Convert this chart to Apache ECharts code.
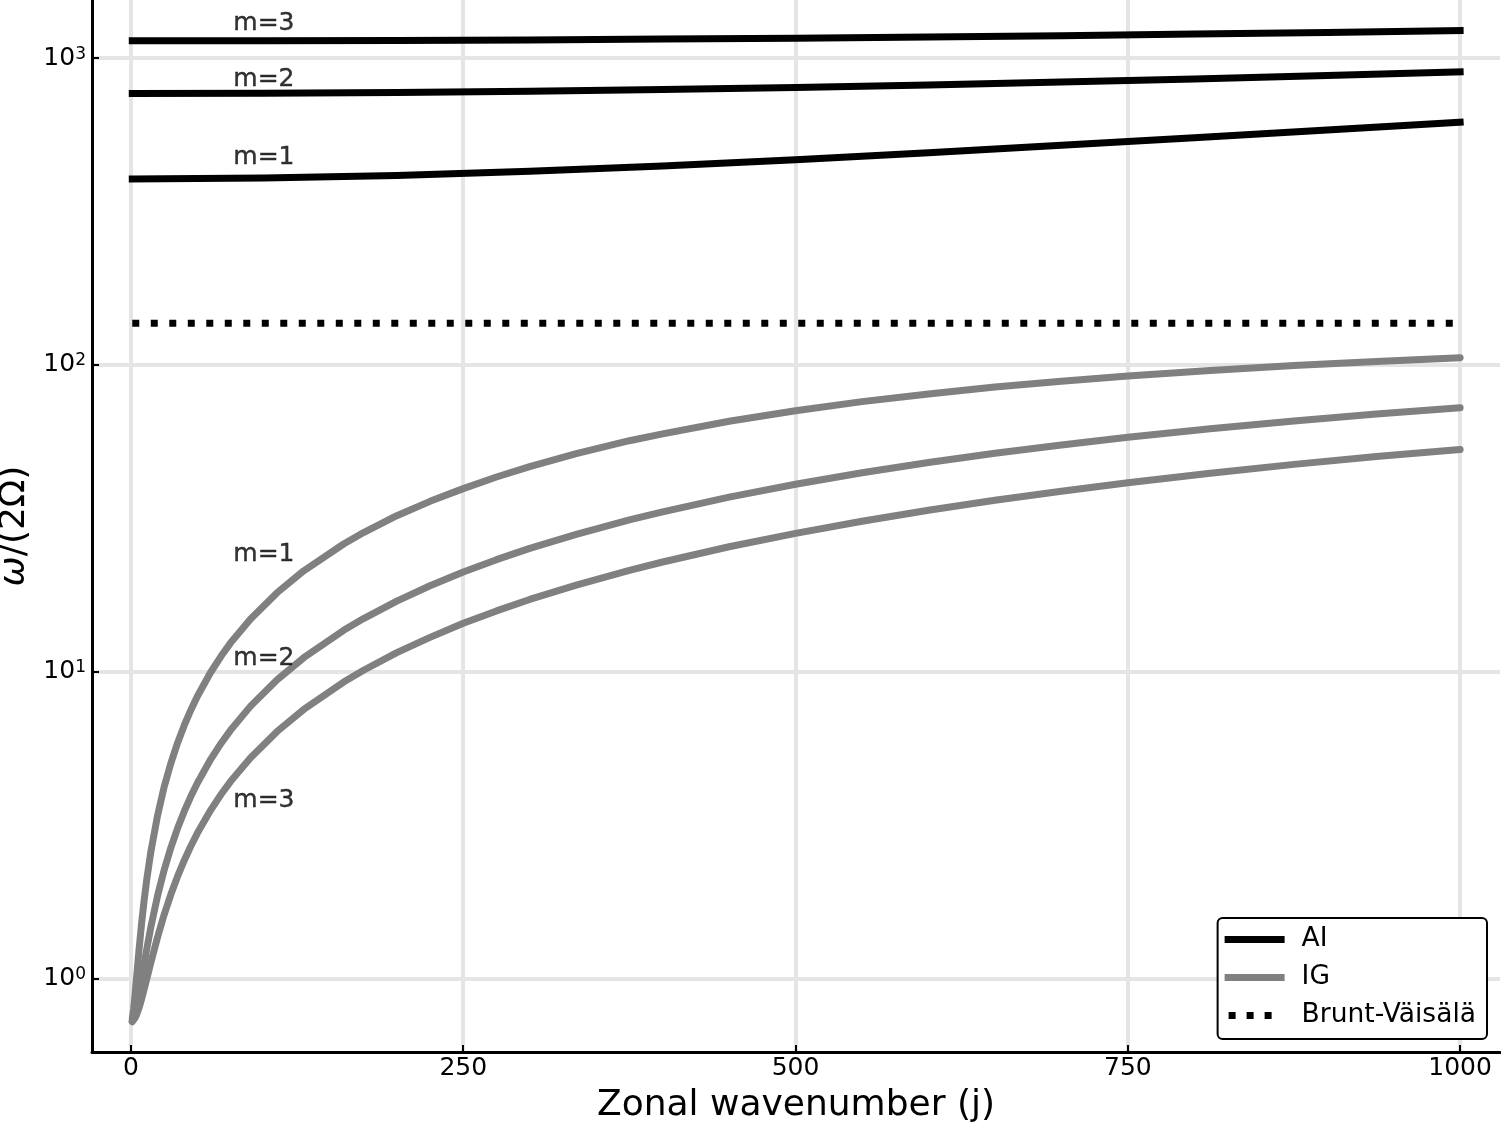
<!DOCTYPE html>
<html>
<head>
<meta charset="utf-8">
<script src="https://cdn.jsdelivr.net/npm/echarts@6/dist/echarts.min.js"></script>
<style>
  html, body { margin: 0; padding: 0; background: #fff; }
  #chart { width: 1501px; height: 1123px; }
</style>
</head>
<body>
<div id="chart"></div>
<script>
// zonal wavenumber samples
var jAI = [1, 100, 200, 300, 400, 500, 600, 700, 800, 900, 1000];
var aiM1 = [404, 406.7, 414.7, 427.7, 445.2, 466.8, 491.9, 520.0, 550.6, 583.4, 618.0];
var aiM2 = [767, 768.5, 772.9, 780.1, 790.2, 802.9, 818.2, 836.0, 856.0, 878.1, 902.2];
var aiM3 = [1139, 1140.0, 1142.8, 1147.5, 1154.1, 1162.5, 1172.7, 1184.6, 1198.2, 1213.5, 1230.3];

var jIG = [1, 2, 3, 4, 6, 8, 10, 12, 15, 20, 25, 30, 35, 40, 45, 50, 60, 68, 75, 90,
           110, 130, 160, 175, 200, 225, 250, 275, 300, 335, 375, 400, 450, 500, 550, 600,
           650, 700, 750, 812, 875, 937, 1000];
var igM1 = [0.74, 0.793, 0.875, 0.979, 1.23, 1.509, 1.81, 2.116, 2.59, 3.39, 4.21, 5.02, 5.843, 6.66, 7.485, 8.31, 9.95, 11.26, 12.41, 14.85,
            18.09, 21.31, 26.06, 28.40, 32.24, 35.9, 39.5, 43.1, 46.6, 51.4, 56.6, 59.6, 65.5, 70.9, 75.9, 80.4,
            84.7, 88.5, 92.0, 95.9, 99.5, 102.6, 105.5];
var igM2 = [0.725, 0.740, 0.764, 0.797, 0.884, 0.993, 1.118, 1.253, 1.471, 1.855, 2.255, 2.664, 3.077, 3.494, 3.913, 4.333, 5.177, 5.853, 6.446, 7.716,
            9.41, 11.10, 13.63, 14.89, 16.98, 19.05, 21.13, 23.17, 25.22, 28.03, 31.22, 33.18, 37.05, 40.80, 44.48, 48.03,
            51.49, 54.83, 58.07, 61.91, 65.64, 69.13, 72.5];
var igM3 = [0.722, 0.729, 0.741, 0.756, 0.799, 0.855, 0.923, 0.999, 1.126, 1.361, 1.613, 1.875, 2.144, 2.418, 2.695, 2.974, 3.536, 3.989, 4.386, 5.241,
            6.383, 7.527, 9.243, 10.10, 11.53, 12.93, 14.37, 15.77, 17.19, 19.15, 21.39, 22.77, 25.53, 28.24, 30.93, 33.57,
            36.19, 38.75, 41.28, 44.34, 47.38, 50.30, 53.0];

var jBV = [1, 1000];
var bv = [136.8, 136.8];

// m= annotations
var annoText = ['m=3', 'm=2', 'm=1', 'm=1', 'm=2', 'm=3'];
var annoJ = [77, 77, 77, 77, 77, 77];
var annoVal = [1294, 850, 473, 24.1, 11.0, 3.79];

var xTicks = [0, 250, 500, 750, 1000];
var yTicks = [1, 10, 100, 1000];

var FONT = 'DejaVu Sans';
var BV_ICON = 'path://M0,3.5L0,3.5M4,0h7v7h-7zM22,0h7v7h-7zM40,0h7v7h-7zM60,3.5L60,3.5';

function pairs(xs, ys) {
    return xs.map(function (x, i) { return [x, ys[i]]; });
}

function lineSeries(name, xs, ys, color, cap) {
    return {
        name: name,
        type: 'line',
        data: pairs(xs, ys),
        symbol: 'none',
        lineStyle: { color: color, width: 7, cap: cap, join: 'round' },
        itemStyle: { color: color },
        silent: true,
        z: 3
    };
}

var series = [
    lineSeries('AI', jAI, aiM1, '#000000', 'square'),
    lineSeries('AI', jAI, aiM2, '#000000', 'square'),
    lineSeries('AI', jAI, aiM3, '#000000', 'square'),
    lineSeries('IG', jIG, igM1, '#808080', 'round'),
    lineSeries('IG', jIG, igM2, '#808080', 'round'),
    lineSeries('IG', jIG, igM3, '#808080', 'round'),
    {
        name: 'Brunt-Väisälä',
        type: 'line',
        data: pairs(jBV, bv),
        symbol: 'none',
        lineStyle: { color: '#000000', width: 7, type: [7, 11.5], cap: 'butt' },
        itemStyle: { color: '#000000' },
        silent: true,
        z: 3
    },
    {
        type: 'scatter',
        data: annoJ.map(function (j, i) { return { value: [j, annoVal[i]], name: annoText[i] }; }),
        symbolSize: 0,
        silent: true,
        label: {
            show: true,
            position: 'right',
            distance: 0,
            formatter: function (p) { return p.name; },
            color: '#000',
            fontFamily: FONT,
            fontSize: 25,
            textBorderColor: '#000',
            textBorderWidth: 0.4
        },
        z: 4
    }
];

var chart = echarts.init(document.getElementById('chart'), null, { renderer: 'canvas' });

chart.setOption({
    animation: false,
    backgroundColor: '#ffffff',
    textStyle: { fontFamily: FONT },
    grid: { left: 92, right: 1, top: 0, bottom: 71, containLabel: false, outerBoundsMode: 'none' },
    legend: {
        data: [
            { name: 'AI', icon: 'rect', itemStyle: { color: '#000000' } },
            { name: 'IG', icon: 'rect', itemStyle: { color: '#808080' } },
            { name: 'Brunt-Väisälä', icon: BV_ICON, itemStyle: { color: '#000000' } }
        ],
        orient: 'vertical',
        right: 14,
        bottom: 84,
        itemWidth: 60,
        itemHeight: 7,
        itemGap: 11,
        padding: [8, 11, 10, 7],
        backgroundColor: '#ffffff',
        borderColor: '#000000',
        borderWidth: 2,
        borderRadius: 5,
        selectedMode: false,
        textStyle: { fontFamily: FONT, fontSize: 26.5, color: '#000', padding: [0, 0, 0, 12] },
        z: 10
    },
    xAxis: {
        type: 'value',
        min: -29.3,
        max: 1030,
        name: 'Zonal wavenumber (j)',
        nameLocation: 'middle',
        nameGap: 36,
        nameTextStyle: { fontFamily: FONT, fontSize: 36, color: '#000' },
        axisLine: { show: true, onZero: false, lineStyle: { color: '#000', width: 3 } },
        axisTick: { show: true, inside: true, length: 7, lineStyle: { color: '#000', width: 2 }, customValues: xTicks },
        axisLabel: {
            color: '#000', fontSize: 25, fontFamily: FONT, margin: 4, customValues: xTicks,
            formatter: function (v) { return String(v); }
        },
        splitLine: { show: true, lineStyle: { color: '#e5e5e5', width: 4 } }
    },
    yAxis: {
        type: 'log',
        logBase: 10,
        min: 0.575,
        max: 1548,
        name: '{i|ω}/(2Ω)',
        nameLocation: 'middle',
        nameGap: 46,
        nameTextStyle: {
            fontFamily: FONT, fontSize: 36, color: '#000',
            rich: { i: { fontFamily: FONT, fontSize: 36, fontStyle: 'italic', color: '#000' } }
        },
        axisLine: { show: true, onZero: false, lineStyle: { color: '#000', width: 3 } },
        axisTick: { show: true, inside: true, length: 7, lineStyle: { color: '#000', width: 2 }, customValues: yTicks },
        axisLabel: {
            margin: 6,
            customValues: yTicks,
            formatter: function (v) {
                var e = Math.round(Math.log(v) / Math.LN10);
                return '{b|10}{s|' + e + '}';
            },
            rich: {
                b: { fontFamily: FONT, fontSize: 25, lineHeight: 25, color: '#000' },
                s: { fontFamily: FONT, fontSize: 17, lineHeight: 17, verticalAlign: 'top', color: '#000' }
            }
        },
        splitLine: { show: true, lineStyle: { color: '#e5e5e5', width: 4 } },
        minorTick: { show: false },
        minorSplitLine: { show: false }
    },
    series: series
});
</script>
</body>
</html>
